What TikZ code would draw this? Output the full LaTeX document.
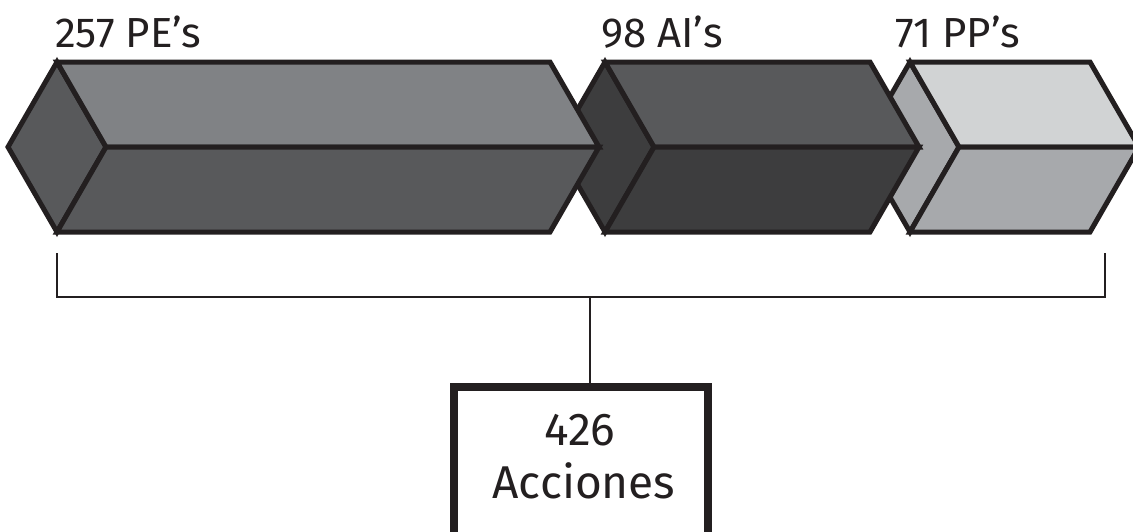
\documentclass[tikz,border=0pt]{standalone}
\usepackage{fontspec}
\setmainfont{Fira Sans}
\definecolor{ink}{HTML}{231F20}
\definecolor{gA}{HTML}{808285}
\definecolor{gB}{HTML}{58595B}
\definecolor{gC}{HTML}{3D3D3E}
\definecolor{gD}{HTML}{D1D3D4}
\definecolor{gE}{HTML}{A7A9AC}
\newcommand\myprism[5]{%
  \filldraw[face,fill=#4] ({#1-49},147) -- (#1,62) -- ({#1+49},147) -- (#1,232) -- cycle;
  \filldraw[face,fill=#3] (#1,62) -- (#2,62) -- ({#2+49},147) -- ({#1+49},147) -- cycle;
  \filldraw[face,fill=#5] ({#1+49},147) -- ({#2+49},147) -- (#2,232) -- (#1,232) -- cycle;
}
\tikzset{
  face/.style={draw=ink,line width=5pt,line join=miter},
  lbl/.style={font=\fontsize{42}{48}\selectfont,text=ink,inner sep=0pt,anchor=base west},
  boxtxt/.style={font=\fontsize{46}{52}\selectfont,text=ink,inner sep=0pt,anchor=base},
  thin/.style={draw=ink,line width=2.5pt},
  actbox/.style={draw=ink,line width=8pt,fill=white,minimum width=254pt,minimum height=180pt,inner sep=0pt}
}
\begin{document}
\begin{tikzpicture}[x=1pt,y=-1pt]
\useasboundingbox (0,0) rectangle (1133,531);
\clip (0,0) rectangle (1133,531);
\myprism{910}{1090}{gD}{gE}{gE}
\myprism{605}{870}{gB}{gC}{gC}
\myprism{57}{550}{gA}{gB}{gB}
\node[lbl] (pe) at (55,47) {257 PE’s};
\node[lbl] (ai) at (601,47) {98 AI’s};
\node[lbl] (pp) at (895,47) {71 PP’s};
\coordinate (bl) at (57,253);
\coordinate (blc) at (57,297);
\coordinate (brc) at (1105,297);
\coordinate (br) at (1105,253);
\coordinate (bm) at (590,297);
\draw[thin] (bl) -- (blc) -- (brc) -- (br);
\node[actbox] (acc) at (581,477) {};
\draw[thin] (bm) -- (bm |- acc.north);
\node[boxtxt] (n426) at (580,445) {426};
\node[boxtxt] (nacc) at (584,498) {Acciones};
\end{tikzpicture}
\end{document}
